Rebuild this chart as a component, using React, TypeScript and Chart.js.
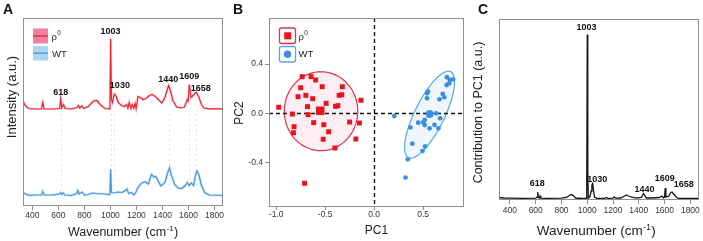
import React, { useEffect, useRef } from "react";
import { Chart, registerables } from "chart.js";

Chart.register(...registerables);

const FONT = "'Liberation Sans', Arial, Helvetica, sans-serif";

// ---------------- Panel A : mean Raman spectra ----------------
const A_X_TICKS = [400, 600, 800, 1000, 1200, 1400, 1600, 1800];
const RHO0_SPECTRUM: [number, number][] = [
  [328, 104.8], [345, 100.5], [370, 97.5], [420, 97], [470, 97.2], [480, 103.5], [490, 97.2],
  [560, 97], [610, 97.5], [618, 107.2], [626, 98], [640, 101.5], [652, 97.5], [700, 97],
  [745, 98.5], [755, 100.5], [765, 98], [780, 100], [795, 97.5], [830, 99.5], [870, 105],
  [895, 105.5], [925, 101], [960, 97.5], [992, 97], [997, 106.5], [1002, 167.2], [1008, 106.5],
  [1016, 103.5], [1025, 109.5], [1033, 112], [1045, 109.5], [1060, 103.5], [1085, 100.5],
  [1110, 99.5], [1125, 101.5], [1135, 98], [1145, 103.5], [1158, 97.5], [1168, 101.5],
  [1180, 98], [1190, 102.5], [1198, 97.5], [1212, 109.5], [1230, 108.5], [1250, 106.5],
  [1275, 107.5], [1300, 110.5], [1320, 111.5], [1340, 110], [1365, 107], [1395, 103],
  [1420, 108.5], [1436, 116], [1448, 120.5], [1462, 115.5], [1480, 105.5], [1510, 99],
  [1540, 98], [1570, 99], [1590, 106.5], [1598, 105], [1607, 121.5], [1620, 108.5],
  [1636, 110.5], [1660, 114], [1680, 109], [1700, 101.5], [1720, 98], [1760, 97.2], [1866, 97.2],
];
const WT_SPECTRUM: [number, number][] = [
  [328, 14], [345, 12], [380, 10.7], [420, 11], [470, 11], [480, 14.5], [490, 11], [560, 11.2],
  [610, 12], [618, 13.5], [628, 11.5], [638, 13], [650, 11], [700, 10.5], [740, 12.5],
  [750, 15.5], [760, 12], [783, 14], [800, 11], [830, 11.5], [860, 13], [900, 12.5], [960, 12],
  [996, 11.5], [1002, 36.5], [1008, 13.5], [1030, 13], [1055, 14], [1090, 13.5], [1110, 15],
  [1128, 17], [1140, 12.5], [1165, 13.5], [1180, 11], [1195, 13.5], [1210, 18], [1240, 23],
  [1270, 24], [1292, 22], [1315, 31.5], [1336, 29], [1350, 29.5], [1388, 20], [1420, 23.5],
  [1440, 33], [1455, 38.2], [1468, 31], [1495, 21.5], [1520, 18], [1550, 17.5], [1575, 20.5],
  [1592, 23.5], [1605, 20.5], [1622, 23], [1640, 20.5], [1655, 31.5], [1666, 35], [1680, 31.5],
  [1700, 20.5], [1725, 13.5], [1760, 11], [1866, 10.7],
];
const PEAK_NAMES = ["618", "1003", "1030", "1440", "1609", "1658"];
const A_PEAK_LABEL_AT: [number, number][] = [
  [618, 113], [1001, 174.8], [1073, 120.5], [1445, 126.5], [1607, 129], [1695, 117],
];
const A_GUIDE_WN = [618, 1003, 1030, 1448, 1607, 1660];
const A_GUIDE_SPAN: [number, number] = [16, 92];

// ---------------- Panel B : PCA scores ----------------
const PC_X_TICKS = [-1.0, -0.5, 0.0, 0.5];
const PC_Y_TICKS = [-0.4, 0.0, 0.4];
const RHO0_SCORES: [number, number][] = [
  [-0.734, 0.298], [-0.644, 0.298], [-0.597, 0.271], [-0.75, 0.208], [-0.53, 0.216],
  [-0.324, 0.216], [-0.777, 0.135], [-0.697, 0.146], [-0.627, 0.119], [-0.357, 0.146],
  [-0.33, 0.151], [-0.134, 0.106], [-0.974, 0.049], [-0.68, 0.054], [-0.49, 0.081],
  [-0.394, 0.057], [-0.37, 0.062], [-0.834, -0.006], [-0.674, -0.011], [-0.617, -0.076],
  [-0.514, -0.093], [-0.25, -0.071], [-0.15, -0.079], [-0.817, -0.109], [-0.824, -0.158],
  [-0.464, -0.15], [-0.52, -0.211], [-0.187, -0.209], [-0.4, -0.282], [-0.71, -0.569],
];
const WT_SCORES: [number, number][] = [
  [0.206, -0.022], [0.743, 0.293], [0.773, 0.271], [0.74, 0.23], [0.806, 0.276], [0.766, 0.244],
  [0.55, 0.176], [0.54, 0.163], [0.7, 0.157], [0.716, 0.13], [0.666, 0.114], [0.54, 0.122],
  [0.633, 0], [0.673, -0.041], [0.516, -0.054], [0.45, -0.076], [0.5, -0.073], [0.516, -0.095],
  [0.566, -0.122], [0.616, -0.095], [0.656, -0.122], [0.37, -0.114], [0.39, -0.247],
  [0.52, -0.27], [0.493, -0.307], [0.343, -0.374], [0.32, -0.523],
];
const RHO0_CENTROID: [number, number] = [-0.55, 0.021];
const WT_CENTROID: [number, number] = [0.566, -0.006];
// ellipse: centre and two conjugate semi-axis vectors (data units)
const RHO0_ELLIPSE = { c: [-0.542, 0.017], u: [0.375, 0], v: [0, 0.321] };
const WT_ELLIPSE = { c: [0.566, -0.011], u: [0.216, 0.349], v: [0.135, -0.055] };

// ---------------- Panel C : PC1 loading ----------------
const C_X_TICKS = [400, 600, 800, 1000, 1200, 1400, 1600, 1800];
const PC1_LOADING: [number, number][] = [
  [315, 2.5], [350, 2], [400, 1.8], [500, 1.6], [600, 1.8], [612, 3], [616, 8], [620, 2.5],
  [630, 2], [634, 4], [640, 1.8], [700, 1.6], [800, 1.8], [840, 2.5], [865, 5], [880, 5.5],
  [895, 4], [910, 2], [960, 1.5], [992, 1.5], [996, 20], [1000, 165.5], [1004, 30], [1008, 2],
  [1020, 3], [1030, 9], [1036, 15], [1042, 16.5], [1048, 10], [1056, 3], [1080, 1.5],
  [1130, 1.5], [1150, 2.5], [1160, 1.5], [1200, 1.8], [1210, 3], [1220, 1.8], [1260, 2],
  [1290, 4], [1305, 5], [1320, 4], [1340, 3], [1380, 1.8], [1420, 2.5], [1436, 6.5],
  [1448, 4], [1460, 2], [1500, 2], [1560, 2.5], [1580, 4], [1592, 2], [1600, 3], [1605, 12],
  [1610, 3], [1630, 3.5], [1648, 7.5], [1658, 8], [1670, 6], [1690, 3], [1710, 1.5],
  [1800, 1.5], [1867, 1.5],
];
const C_PEAK_LABEL_AT: [number, number][] = [
  [612, 16], [994, 172.7], [1077, 20.8], [1445, 10], [1602, 21], [1749, 15],
];

// ---------------- helpers ----------------
const FRAME = "#8e8e8e";
const TICK_TEXT = "#333";

function xy(arr: [number, number][]) {
  return arr.map(([x, y]) => ({ x, y }));
}

function text(ctx: CanvasRenderingContext2D, s: string, x: number, y: number, font: string,
  color = "#111", align: CanvasTextAlign = "center", baseline: CanvasTextBaseline = "middle") {
  ctx.font = font;
  ctx.fillStyle = color;
  ctx.textAlign = align;
  ctx.textBaseline = baseline;
  ctx.fillText(s, x, y);
}

function rotText(ctx: CanvasRenderingContext2D, s: string, x: number, y: number, font: string) {
  ctx.save();
  ctx.translate(x, y);
  ctx.rotate(-Math.PI / 2);
  text(ctx, s, 0, 0, font, "#222");
  ctx.restore();
}

function wavenumberTitle(ctx: CanvasRenderingContext2D, cx: number, cy: number, size: number) {
  const a = "Wavenumber (cm", sup = "-1", b = ")";
  ctx.font = `${size}px ${FONT}`;
  const wa = ctx.measureText(a).width, wb = ctx.measureText(b).width;
  ctx.font = `${size * 0.62}px ${FONT}`;
  const ws = ctx.measureText(sup).width;
  const x0 = cx - (wa + ws + wb + 1) / 2;
  const base = cy + size * 0.36;
  text(ctx, a, x0, base, `${size}px ${FONT}`, "#222", "left", "alphabetic");
  text(ctx, sup, x0 + wa + 0.5, base - size * 0.42, `${size * 0.62}px ${FONT}`, "#222", "left", "alphabetic");
  text(ctx, b, x0 + wa + ws + 1, base, `${size}px ${FONT}`, "#222", "left", "alphabetic");
}

function rhoLabel(ctx: CanvasRenderingContext2D, x: number, base: number) {
  ctx.font = `9.5px ${FONT}`;
  const w = ctx.measureText("ρ").width;
  text(ctx, "ρ", x, base, `9.5px ${FONT}`, "#222", "left", "alphabetic");
  text(ctx, "0", x + w + 0.3, base - 4.5, `6.5px ${FONT}`, "#222", "left", "alphabetic");
}

function frame(chart: any) {
  const { ctx, chartArea: a } = chart;
  ctx.save();
  ctx.strokeStyle = FRAME;
  ctx.lineWidth = 1;
  ctx.strokeRect(Math.round(a.left) + 0.5, Math.round(a.top) + 0.5,
    Math.round(a.right - a.left) - 1, Math.round(a.bottom - a.top) - 1);
  ctx.restore();
}

function peakLabels(chart: any, at: [number, number][]) {
  const { ctx, scales } = chart;
  at.forEach(([wx, vy], i) => {
    text(ctx, PEAK_NAMES[i], scales.x.getPixelForValue(wx), scales.y.getPixelForValue(vy),
      `bold 9px ${FONT}`, "#111");
  });
}

function xAxis(min: number, max: number, ticks: number[], height: number, tickLen: number,
  pad: number, fmt?: (v: number) => string) {
  return {
    type: "linear" as const,
    min,
    max,
    afterBuildTicks: (s: any) => { s.ticks = ticks.map((v) => ({ value: v })); },
    afterFit: (s: any) => { s.height = height; },
    ticks: {
      font: { family: FONT, size: 8.5 },
      color: TICK_TEXT,
      padding: pad,
      maxRotation: 0,
      autoSkip: false,
      callback: fmt ? (v: any) => fmt(Number(v)) : (v: any) => String(v),
    },
    grid: { drawOnChartArea: false, drawTicks: true, tickLength: tickLen, color: FRAME },
    border: { display: false },
  };
}

const base = {
  responsive: false,
  maintainAspectRatio: false,
  animation: false as const,
  events: [] as any[],
  plugins: { legend: { display: false }, tooltip: { enabled: false } },
};

function makeA(canvas: HTMLCanvasElement) {
  const plugin = {
    id: "panelA",
    beforeDatasetsDraw(chart: any) {
      const { ctx, scales } = chart;
      ctx.save();
      ctx.strokeStyle = "#dfe3e8";
      ctx.lineWidth = 1;
      ctx.setLineDash([2, 3]);
      A_GUIDE_WN.forEach((w) => {
        const px = Math.round(scales.x.getPixelForValue(w)) + 0.5;
        ctx.beginPath();
        ctx.moveTo(px, scales.y.getPixelForValue(A_GUIDE_SPAN[1]));
        ctx.lineTo(px, scales.y.getPixelForValue(A_GUIDE_SPAN[0]));
        ctx.stroke();
      });
      ctx.restore();
    },
    afterDraw(chart: any) {
      const { ctx } = chart;
      frame(chart);
      ctx.save();
      // legend
      ctx.fillStyle = "#f27fa5";
      ctx.fillRect(33, 28.5, 15, 15);
      ctx.strokeStyle = "#e8222c";
      ctx.lineWidth = 1.3;
      ctx.beginPath(); ctx.moveTo(33, 36); ctx.lineTo(48, 36); ctx.stroke();
      ctx.fillStyle = "#acd5f1";
      ctx.fillRect(33, 46, 15, 14.5);
      ctx.strokeStyle = "#4596dc";
      ctx.beginPath(); ctx.moveTo(33, 53.2); ctx.lineTo(48, 53.2); ctx.stroke();
      rhoLabel(ctx, 51.5, 39.5);
      text(ctx, "WT", 52, 56.7, `9.5px ${FONT}`, "#222", "left", "alphabetic");
      peakLabels(chart, A_PEAK_LABEL_AT);
      rotText(ctx, "Intensity (a.u.)", 12.8, 97, `13px ${FONT}`);
      wavenumberTitle(ctx, 123, 231.5, 12.5);
      text(ctx, "A", 3, 14, `bold 14px ${FONT}`, "#111", "left", "alphabetic");
      ctx.restore();
    },
  };
  return new Chart(canvas, {
    type: "line",
    data: {
      datasets: [
        { data: xy(RHO0_SPECTRUM), borderColor: "#e8262f", borderWidth: 1.2, pointRadius: 0, tension: 0, order: 1 },
        { data: xy(WT_SPECTRUM), borderColor: "#4596dc", borderWidth: 1.2, pointRadius: 0, tension: 0, order: 1 },
        { data: xy(RHO0_SPECTRUM), borderColor: "rgba(244,140,170,0.35)", borderWidth: 2.6, pointRadius: 0, tension: 0, order: 2 },
        { data: xy(WT_SPECTRUM), borderColor: "rgba(160,205,240,0.45)", borderWidth: 2.6, pointRadius: 0, tension: 0, order: 2 },
      ],
    },
    options: {
      ...base,
      layout: { padding: { top: 18, right: 9, left: 0, bottom: 0 } },
      scales: {
        x: xAxis(328, 1866, A_X_TICKS, 35, 4, 1),
        y: {
          min: 0, max: 188,
          afterFit: (s: any) => { s.width = 23; },
          ticks: { display: false }, grid: { display: false }, border: { display: false },
        },
      },
    } as any,
    plugins: [plugin],
  });
}

function ellipse(chart: any, e: { c: number[]; u: number[]; v: number[] }, fill: string, stroke: string) {
  const { ctx, scales } = chart;
  ctx.save();
  ctx.beginPath();
  const n = 120;
  for (let i = 0; i <= n; i++) {
    const t = (i / n) * Math.PI * 2;
    const dx = e.c[0] + e.u[0] * Math.cos(t) + e.v[0] * Math.sin(t);
    const dy = e.c[1] + e.u[1] * Math.cos(t) + e.v[1] * Math.sin(t);
    const px = scales.x.getPixelForValue(dx), py = scales.y.getPixelForValue(dy);
    if (i === 0) ctx.moveTo(px, py); else ctx.lineTo(px, py);
  }
  ctx.closePath();
  ctx.fillStyle = fill;
  ctx.fill();
  ctx.strokeStyle = stroke;
  ctx.lineWidth = 1.2;
  ctx.stroke();
  ctx.restore();
}

function makeB(canvas: HTMLCanvasElement) {
  const plugin = {
    id: "panelB",
    beforeDatasetsDraw(chart: any) {
      const { ctx, scales, chartArea: a } = chart;
      ellipse(chart, RHO0_ELLIPSE, "#fdeef3", "#e0304a");
      ellipse(chart, WT_ELLIPSE, "#eff6fc", "#57a6e4");
      ctx.save();
      ctx.strokeStyle = "#111";
      ctx.lineWidth = 1.4;
      ctx.setLineDash([4, 3]);
      const x0 = Math.round(scales.x.getPixelForValue(0)) + 0.5;
      const y0 = Math.round(scales.y.getPixelForValue(0)) + 0.5;
      ctx.beginPath(); ctx.moveTo(x0, a.top); ctx.lineTo(x0, a.bottom); ctx.stroke();
      ctx.beginPath(); ctx.moveTo(a.left, y0); ctx.lineTo(a.right, y0); ctx.stroke();
      ctx.restore();
    },
    afterDraw(chart: any) {
      const { ctx } = chart;
      frame(chart);
      ctx.save();
      // legend
      ctx.lineWidth = 1.3;
      ctx.strokeStyle = "#e0304a";
      ctx.beginPath(); (ctx as any).roundRect ? (ctx as any).roundRect(49.5, 28, 16, 15.5, 2) : ctx.rect(49.5, 28, 16, 15.5); ctx.stroke();
      ctx.fillStyle = "#e8141e";
      ctx.fillRect(54.2, 32.3, 7, 7);
      ctx.strokeStyle = "#57a6e4";
      ctx.beginPath(); (ctx as any).roundRect ? (ctx as any).roundRect(49.5, 46.5, 16, 15.5, 2) : ctx.rect(49.5, 46.5, 16, 15.5); ctx.stroke();
      ctx.fillStyle = "#3b8fdd";
      ctx.beginPath(); ctx.arc(57.5, 54.3, 3.7, 0, Math.PI * 2); ctx.fill();
      rhoLabel(ctx, 68.5, 39.5);
      text(ctx, "WT", 68.5, 57.3, `9.5px ${FONT}`, "#222", "left", "alphabetic");
      rotText(ctx, "PC2", 9.5, 113, `12px ${FONT}`);
      text(ctx, "PC1", 146.5, 230.5, `12px ${FONT}`, "#222");
      text(ctx, "B", 3, 14, `bold 14px ${FONT}`, "#111", "left", "alphabetic");
      ctx.restore();
    },
  };
  const fmt = (v: number) => v.toFixed(1);
  return new Chart(canvas, {
    type: "scatter",
    data: {
      datasets: [
        { data: xy([RHO0_CENTROID]), pointStyle: "rect", pointRadius: 6, backgroundColor: "#e8141e", borderWidth: 0 },
        { data: xy([WT_CENTROID]), pointStyle: "circle", pointRadius: 4, backgroundColor: "#3b8fdd", borderWidth: 0 },
        { data: xy(RHO0_SCORES), pointStyle: "rect", pointRadius: 3.5, backgroundColor: "#e8141e", borderWidth: 0 },
        { data: xy(WT_SCORES), pointStyle: "circle", pointRadius: 2.4, backgroundColor: "#3b8fdd", borderWidth: 0 },
      ],
    },
    options: {
      ...base,
      layout: { padding: { top: 18, right: 2, left: 0, bottom: 0 } },
      scales: {
        x: xAxis(-1.073, 0.917, PC_X_TICKS, 34, 3, 0, fmt),
        y: {
          type: "linear",
          min: -0.762, max: 0.775,
          afterBuildTicks: (s: any) => { s.ticks = PC_Y_TICKS.map((v) => ({ value: v })); },
          afterFit: (s: any) => { s.width = 39; },
          ticks: { font: { family: FONT, size: 8.5 }, color: TICK_TEXT, padding: 2, callback: (v: any) => fmt(Number(v)) },
          grid: { drawOnChartArea: false, drawTicks: true, tickLength: 4, color: FRAME },
          border: { display: false },
        },
      },
    } as any,
    plugins: [plugin],
  });
}

function makeC(canvas: HTMLCanvasElement) {
  const plugin = {
    id: "panelC",
    afterDraw(chart: any) {
      const { ctx } = chart;
      frame(chart);
      ctx.save();
      peakLabels(chart, C_PEAK_LABEL_AT);
      rotText(ctx, "Contribution to PC1 (a.u.)", 15.8, 112.5, `12.5px ${FONT}`);
      wavenumberTitle(ctx, 133.3, 230.5, 13.5);
      text(ctx, "C", 15, 14, `bold 14px ${FONT}`, "#111", "left", "alphabetic");
      ctx.restore();
    },
  };
  return new Chart(canvas, {
    type: "line",
    data: {
      datasets: [
        { data: xy(PC1_LOADING), borderColor: "#151515", borderWidth: 1.3, pointRadius: 0, tension: 0 },
      ],
    },
    options: {
      ...base,
      layout: { padding: { top: 19, right: 4, left: 0, bottom: 0 } },
      scales: {
        x: xAxis(315, 1867, C_X_TICKS, 41, 4, 2),
        y: {
          min: 0, max: 181,
          afterFit: (s: any) => { s.width = 36; },
          ticks: { display: false }, grid: { display: false }, border: { display: false },
        },
      },
    } as any,
    plugins: [plugin],
  });
}

export default function App() {
  const aRef = useRef<HTMLCanvasElement>(null);
  const bRef = useRef<HTMLCanvasElement>(null);
  const cRef = useRef<HTMLCanvasElement>(null);
  useEffect(() => {
    const charts = [makeA(aRef.current!), makeB(bRef.current!), makeC(cRef.current!)];
    return () => charts.forEach((c) => c.destroy());
  }, []);
  return (
    <div style={{ position: "fixed", left: 0, top: 0, width: 703, height: 241, background: "#fff", overflow: "hidden" }}>
      <canvas ref={aRef} width={232} height={241} style={{ position: "absolute", left: 0, top: 0, width: 232, height: 241 }} />
      <canvas ref={bRef} width={240} height={241} style={{ position: "absolute", left: 230, top: 0, width: 240, height: 241 }} />
      <canvas ref={cRef} width={240} height={241} style={{ position: "absolute", left: 463, top: 0, width: 240, height: 241 }} />
    </div>
  );
}
